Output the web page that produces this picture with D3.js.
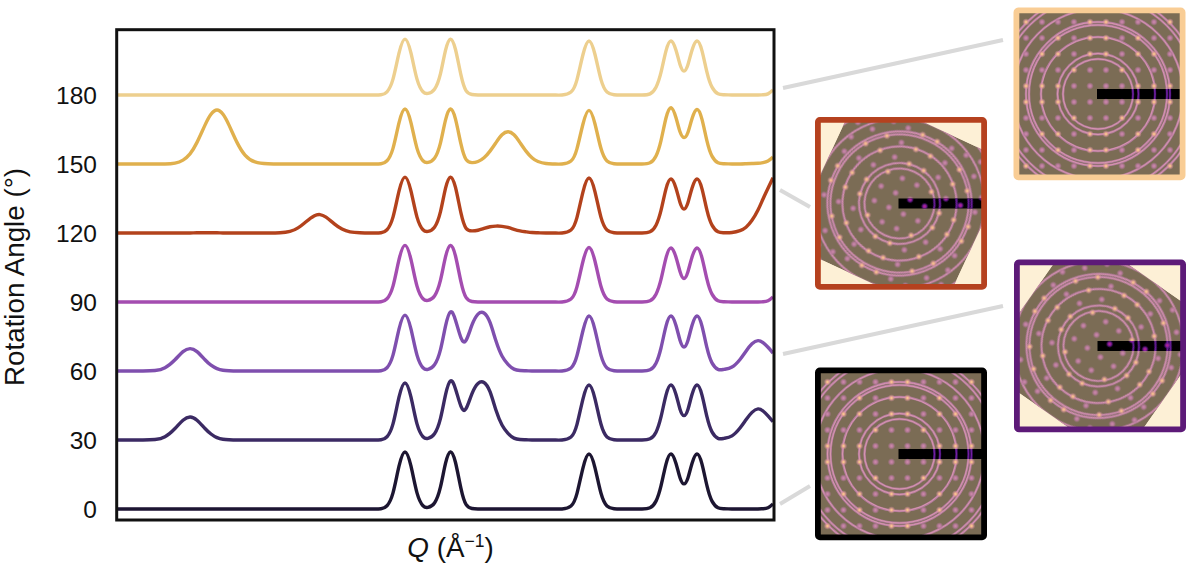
<!DOCTYPE html>
<html>
<head>
<meta charset="utf-8">
<script src="https://cdn.jsdelivr.net/npm/d3@7"></script>
<style>
    body { margin: 0; background: #fff; }
    text { font-family: "Liberation Sans", Arial, sans-serif; fill: #111; }
</style>
</head>
<body>
<div id="chart-container"></div>
<script>
"use strict";

const qGrid = [
    0, 13, 26, 38, 48, 58, 66, 73, 80, 88, 94, 100, 106, 112, 120, 128, 138, 151, 163, 173, 181, 189, 197, 203, 209, 217, 225, 233, 243, 255, 264,
    270, 276, 282, 288, 294, 300, 306, 311, 317.5, 323.5, 328.5, 333.5, 338.5, 344, 349, 355, 361, 367, 373, 379, 385, 391, 397, 403, 409, 415, 421, 429, 437, 445,
    454, 460, 466, 472, 478, 484, 490, 497, 505, 515, 525, 533, 539, 544, 549, 554, 559, 563, 567, 571, 575, 580, 585, 590, 595, 601, 607, 615, 623, 629, 635, 641, 646, 651, 656
];

const intensity0 = [
    0, 0, 0, 0, 0, 0, 0, 0, 0, 0, 0, 0, 0, 0, 0, 0, 0, 0, 0, 0, 0, 0, 0, 0, 0, 0, 0, 0, 0, 0, 0.1,
    1.4, 7, 18.6, 24.8, 18.6, 7, 1.4, 0.7, 2.6, 9.6, 19.8, 24.8, 20.2, 8.8, 2, 0.2, 0, 0, 0, 0, 0, 0, 0, 0, 0, 0, 0, 0, 0, 0,
    1.3, 6.8, 17.9, 23.9, 17.9, 6.8, 1.3, 0.1, 0, 0, 0, 0.5, 3.4, 10, 19.5, 23.9, 19.8, 13.6, 10.9, 13.6, 19.8, 23.9, 19.5, 10, 3.4, 0.5, 0.1, 0, 0, 0, 0, 0, 0.1, 0.5, 2.2
];
const intensity30 = [
    0, 0, 0, 0.2, 1.4, 5, 8.6, 10, 8.6, 5, 2.6, 1, 0.3, 0.1, 0, 0, 0, 0, 0, 0, 0, 0, 0, 0, 0, 0, 0, 0, 0, 0, 0.1,
    1.4, 7, 18.6, 24.8, 18.6, 7, 1.4, 0.7, 2.7, 9.4, 19.6, 25.7, 22.2, 14.6, 13.6, 20.2, 24.6, 25, 21, 12.9, 6.5, 2.9, 0.8, 0.2, 0.1, 0, 0, 0, 0, 0,
    1.3, 6.8, 17.9, 23.9, 17.9, 6.8, 1.3, 0.1, 0, 0, 0, 0.5, 3.4, 10, 19.5, 23.9, 19.8, 13.4, 10.6, 13.4, 19.8, 23.9, 19.5, 10, 3.5, 0.7, 0.7, 1.8, 5.2, 8.8, 12, 13.5, 12.6, 10.5, 7.9
];
const intensity60 = [
    0, 0, 0, 0.2, 1.4, 4.9, 8.4, 9.7, 8.4, 4.9, 2.5, 1, 0.3, 0.1, 0, 0, 0, 0, 0, 0, 0, 0, 0, 0, 0, 0, 0, 0, 0, 0, 0.1,
    1.4, 6.9, 18.2, 24.3, 18.2, 6.9, 1.4, 0.7, 2.7, 9.3, 19.5, 25.7, 22.1, 14.4, 13.3, 20, 24.7, 25.2, 21.1, 13, 6.5, 2.9, 0.8, 0.2, 0.1, 0, 0, 0, 0, 0,
    1.3, 6.7, 17.6, 23.9, 17.9, 6.8, 1.3, 0.1, 0, 0, 0, 0.5, 3.4, 10, 19.5, 23.9, 19.8, 13.4, 10.4, 13.4, 19.8, 23.9, 19.5, 10, 3.5, 0.7, 0.7, 1.7, 5, 8.6, 11.8, 13.2, 12.3, 10.3, 7.8
];
const intensity90 = [
    0, 0, 0, 0, 0, 0, 0, 0, 0, 0, 0, 0, 0, 0, 0, 0, 0, 0, 0, 0, 0, 0, 0, 0, 0, 0, 0, 0, 0, 0, 0.1,
    1.4, 6.9, 18.4, 24.6, 18.4, 6.9, 1.4, 0.7, 2.6, 9.5, 19.6, 24.6, 20, 8.7, 2, 0.2, 0, 0, 0, 0, 0, 0, 0, 0, 0, 0, 0, 0, 0, 0,
    1.3, 6.7, 17.7, 23.7, 17.7, 6.7, 1.3, 0.1, 0, 0, 0, 0.5, 3.4, 9.8, 19.2, 23.5, 19.5, 13.3, 10.2, 13.3, 19.5, 23.5, 19.2, 9.8, 3.4, 0.5, 0.1, 0, 0, 0, 0, 0, 0.1, 0.5, 2.2
];
const intensity120 = [
    0, 0, 0, 0, 0, 0, 0, 0, 0.1, 0.1, 0.1, 0.1, 0, 0, 0, 0, 0, 0, 0.1, 0.7, 2.2, 4.9, 7.4, 8, 6.9, 4.1, 1.7, 0.5, 0.1, 0, 0.1,
    1.4, 6.9, 18.2, 24.3, 18.2, 6.9, 1.4, 0.7, 2.5, 9.3, 19.4, 24.3, 19.8, 8.6, 2.1, 0.9, 1.2, 2, 2.7, 3, 2.9, 2.4, 1.6, 0.9, 0.5, 0.2, 0.1, 0, 0, 0,
    1.3, 6.8, 17.9, 23.9, 17.9, 6.8, 1.3, 0.1, 0, 0, 0, 0.5, 3.4, 9.8, 19.2, 23.5, 19.5, 13.3, 10.4, 13.3, 19.5, 23.5, 19.2, 9.8, 3.4, 0.5, 0.1, 0.2, 1, 2.5, 5.5, 10, 14.8, 19.5, 24
];
const intensity150 = [
    0, 0, 0, 0, 0, 0.4, 1.7, 4.4, 9.4, 16.9, 21.6, 23.5, 21.6, 16.9, 9.4, 3.9, 0.9, 0.1, 0, 0, 0, 0, 0, 0, 0, 0, 0, 0, 0, 0, 0.1,
    1.4, 6.8, 17.9, 23.9, 17.9, 6.8, 1.4, 0.7, 2.5, 9.2, 19.1, 23.9, 19.5, 8.6, 2, 0.6, 1.1, 2.7, 5.6, 9.3, 12.7, 14, 12.7, 9.3, 5.6, 2.7, 1.1, 0.2, 0, 0,
    1.3, 6.7, 17.4, 23.3, 17.4, 6.7, 1.3, 0.1, 0, 0, 0, 0.5, 3.5, 10.2, 20, 24.5, 20.1, 14, 11.5, 13.8, 19.7, 23.7, 19.4, 9.9, 3.4, 0.5, 0.1, 0, 0, 0.1, 0.2, 0.3, 0.6, 1.3, 3
];
const intensity180 = [
    0, 0, 0, 0, 0, 0, 0, 0, 0, 0, 0, 0, 0, 0, 0, 0, 0, 0, 0, 0, 0, 0, 0, 0, 0, 0, 0, 0, 0, 0, 0.1,
    1.4, 6.9, 18.2, 24.3, 18.2, 6.9, 1.4, 0.7, 2.5, 9.3, 19.4, 24.3, 19.8, 8.6, 1.9, 0.2, 0, 0, 0, 0, 0, 0, 0, 0, 0, 0, 0, 0, 0, 0,
    1.3, 6.7, 17.6, 23.5, 17.6, 6.7, 1.3, 0.1, 0, 0, 0, 0.5, 3.4, 9.8, 19.2, 23.5, 19.5, 13.3, 10.4, 13.3, 19.5, 23.5, 19.2, 9.8, 3.4, 0.5, 0.1, 0, 0, 0, 0, 0, 0.1, 0.5, 2.2
];

const angles = [0, 30, 60, 90, 120, 150, 180];
const curves = [intensity0, intensity30, intensity60, intensity90, intensity120, intensity150, intensity180];
const curveColors = ["#1e1530", "#3a2a63", "#7f4fae", "#a44db0", "#b3431e", "#e0b04e", "#edcf8e"];

const panelAngles = [180, 120, 60, 0];
const panelTurns = [0, 25, 35, 0];
const panelColors = ["#f9cd95", "#b5411f", "#5d1a78", "#000000"];
const panelLeft = [1013.5, 815, 1014, 815];
const panelTop = [7.5, 117, 259.5, 367.5];
const ringRadii = [35, 40.5, 57, 69, 72, 85, 97, 101];

const connectorStart = [[783, 88], [780, 190], [783, 354], [780, 504]];
const connectorEnd = [[1003, 40], [810, 207], [1003, 306], [810, 486]];

const margin = {top: 29, right: 423, bottom: 46, left: 117};
const width = 1196;
const height = 566;

const x = d3.scaleLinear().domain([0, 656]).range([margin.left, width - margin.right]);
const y = d3.scaleLinear().domain([-4.8, 208.7]).range([height - margin.bottom, margin.top]);

const svg = d3.select("#chart-container").append("svg")
    .attr("width", width)
    .attr("height", height)
    .style("display", "block");

const defs = svg.append("defs");
defs.append("filter").attr("id", "soft")
    .attr("x", "-10%").attr("y", "-10%").attr("width", "120%").attr("height", "120%")
    .append("feGaussianBlur").attr("stdDeviation", 0.4);
defs.append("filter").attr("id", "soft-line")
    .attr("filterUnits", "userSpaceOnUse")
    .attr("x", 0).attr("y", 0).attr("width", width).attr("height", height)
    .append("feGaussianBlur").attr("stdDeviation", 0.3);
defs.append("clipPath").attr("id", "plot-clip").append("rect")
    .attr("x", margin.left).attr("y", margin.top)
    .attr("width", width - margin.left - margin.right)
    .attr("height", height - margin.top - margin.bottom);

function addGlow(id, stops) {
    const gradient = defs.append("radialGradient").attr("id", id);
    stops.forEach(s => gradient.append("stop")
        .attr("offset", s[0])
        .attr("stop-color", s[1])
        .attr("stop-opacity", s[2]));
}
addGlow("spot", [["0%", "#d08cae", 1], ["45%", "#b97a9c", 0.95], ["100%", "#b0759a", 0]]);
addGlow("spot-bright", [["0%", "#ffd890", 1], ["35%", "#eaa88f", 0.95], ["100%", "#d088a8", 0]]);
addGlow("spot-bar", [["0%", "#d02a88", 1], ["45%", "#7c1d9c", 1], ["100%", "#5e1a94", 0]]);

// grey connectors from the curves to the panels
svg.append("g").selectAll("line")
    .data(connectorStart)
    .join("line")
    .attr("x1", d => d[0])
    .attr("y1", d => d[1])
    .attr("x2", (d, i) => connectorEnd[i][0])
    .attr("y2", (d, i) => connectorEnd[i][1])
    .attr("stroke", "#d9d9d9")
    .attr("stroke-width", 4);

const line = d3.line()
    .x((d, i) => x(qGrid[i]))
    .curve(d3.curveNatural);

svg.append("g").attr("clip-path", "url(#plot-clip)")
    .append("g").attr("filter", "url(#soft-line)")
    .selectAll("path")
    .data(curves)
    .join("path")
    .attr("d", (d, i) => line.y(v => y(angles[i] + v))(d))
    .attr("fill", "none")
    .attr("stroke", (d, i) => curveColors[i])
    .attr("stroke-width", 3.4)
    .attr("stroke-linejoin", "round");

svg.append("rect")
    .attr("x", margin.left - 0.3)
    .attr("y", margin.top + 0.7)
    .attr("width", 657.3)
    .attr("height", 490.3)
    .attr("fill", "none")
    .attr("stroke", "#111")
    .attr("stroke-width", 3);

const yAxis = svg.append("g")
    .attr("transform", "translate(" + margin.left + ",1)")
    .call(d3.axisLeft(y).tickValues(angles).tickSize(0).tickPadding(20));
yAxis.select(".domain").remove();
yAxis.selectAll("text")
    .style("font-family", '"Liberation Sans", Arial, sans-serif')
    .style("font-size", "24.5px")
    .style("fill", "#111");

svg.append("text")
    .attr("transform", "translate(23.5,277)rotate(-90)")
    .attr("text-anchor", "middle")
    .style("font-size", "27.8px")
    .text("Rotation Angle (°)");

const xLabel = svg.append("text")
    .attr("x", 450.5)
    .attr("y", 557)
    .attr("text-anchor", "middle")
    .style("font-size", "27.8px");
xLabel.append("tspan").style("font-style", "italic").text("Q");
xLabel.append("tspan").text(" (Å");
xLabel.append("tspan").attr("dy", -10).style("font-size", "17.5px").text("−1");
xLabel.append("tspan").attr("dy", 10).text(")");

// diffraction panels
const lattice = [];
d3.range(-8, 8).forEach(a => d3.range(-8, 8).forEach(b => {
    lattice.push([(a + 0.5) * 16, (b + 0.5) * 16]);
}));
const nearRing = d => ringRadii.some(r => Math.abs(Math.hypot(d[0], d[1]) - r) < 1.4);

function drawPattern(g, ringColors, spotFill, brightFill) {
    ringColors.forEach((color, k) => {
        g.append("g").selectAll("circle")
            .data(ringRadii)
            .join("circle")
            .attr("r", d => d)
            .attr("fill", "none")
            .attr("stroke", color)
            .attr("stroke-width", k === 0 ? 2.4 : 0.9);
    });
    g.append("g").selectAll("circle")
        .data(lattice)
        .join("circle")
        .attr("cx", d => d[0])
        .attr("cy", d => d[1])
        .attr("r", 3.8)
        .attr("fill", d => nearRing(d) ? brightFill : spotFill);
}

panelAngles.forEach((angle, i) => {
    const left = panelLeft[i], top = panelTop[i];
    const cx = left + 84.5, cy = top + 86.5;
    const panel = svg.append("g");

    defs.append("clipPath").attr("id", "inner-" + i).append("rect")
        .attr("x", left + 3).attr("y", top + 3).attr("width", 166).attr("height", 167);
    defs.append("clipPath").attr("id", "image-" + i).append("rect")
        .attr("x", -84).attr("y", -84).attr("width", 168).attr("height", 168);
    defs.append("clipPath").attr("id", "bar-" + i).append("rect")
        .attr("x", cx - 1).attr("y", cy - 5).attr("width", left + 168 - cx + 1).attr("height", 10);

    const inner = panel.append("g").attr("clip-path", "url(#inner-" + i + ")");
    inner.append("rect")
        .attr("x", left + 3).attr("y", top + 3).attr("width", 166).attr("height", 167)
        .attr("fill", "#fdf0d6");

    const turned = inner.append("g")
        .attr("transform", "translate(" + cx + "," + cy + ")rotate(" + panelTurns[i] + ")")
        .append("g")
        .attr("clip-path", "url(#image-" + i + ")");
    turned.append("rect")
        .attr("x", -84).attr("y", -84).attr("width", 168).attr("height", 168)
        .attr("fill", "#7b6c55");
    drawPattern(turned.append("g").attr("filter", "url(#soft)"),
        ["#b37b9c", "#dc98b2"], "url(#spot)", "url(#spot-bright)");

    // beam stop bar, with the pattern showing through it in purple
    inner.append("rect")
        .attr("x", cx - 1).attr("y", cy - 5).attr("width", left + 168 - cx + 1).attr("height", 10)
        .attr("fill", "#000");
    const barPattern = inner.append("g").attr("clip-path", "url(#bar-" + i + ")")
        .append("g")
        .attr("transform", "translate(" + cx + "," + cy + ")rotate(" + panelTurns[i] + ")")
        .attr("filter", "url(#soft)");
    drawPattern(barPattern, ["#4a1578", "#7a22a8"], "url(#spot-bar)", "url(#spot-bar)");

    panel.append("rect")
        .attr("x", left + 2.9).attr("y", top + 2.9).attr("width", 166.2).attr("height", 166.9)
        .attr("rx", 2)
        .attr("fill", "none")
        .attr("stroke", panelColors[i])
        .attr("stroke-width", 5.8);
});
</script>
</body>
</html>
